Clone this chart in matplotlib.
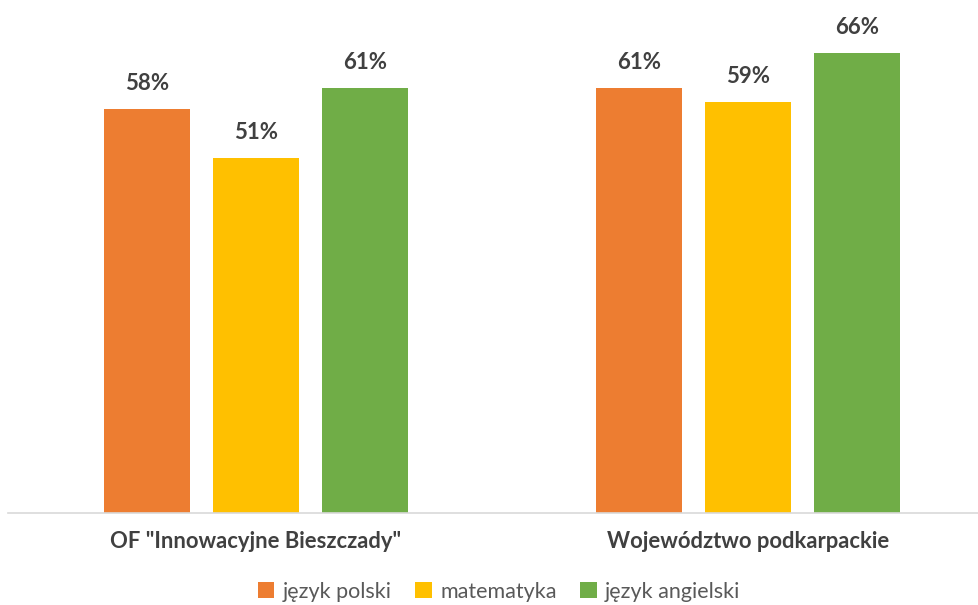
import numpy as np
import matplotlib
matplotlib.use("Agg")
import matplotlib.pyplot as plt

categories = ['OF "Innowacyjne Bieszczady"', 'Województwo podkarpackie']
series_names = ['język polski', 'matematyka', 'język angielski']
values = {
    'język polski': [0.58, 0.61],
    'matematyka': [0.51, 0.59],
    'język angielski': [0.61, 0.66],
}
colors = ['#ED7D31', '#FFC000', '#70AD47']

plt.rcParams['font.family'] = ['Lato', 'DejaVu Sans']

fig = plt.figure(figsize=(9.79, 6.05), dpi=100)
ax = fig.add_axes([8 / 979, 0.152, 971 / 979, 0.848])

x = np.arange(len(categories))
width = 0.173
offset = 0.2215

for i, (name, col) in enumerate(zip(series_names, colors)):
    pos = x + (i - 1) * offset
    bars = ax.bar(pos, values[name], width=width, color=col, label=name, zorder=2)
    for b, v in zip(bars, values[name]):
        ax.text(b.get_x() + b.get_width() / 2, v + 0.021, f'{v * 100:.0f}%',
                ha='center', va='bottom', fontsize=16, fontweight='bold', color='#404040')

ax.set_xlim(-0.504, 1.4695)
ax.set_ylim(0, 0.736)

for s in ['top', 'right', 'left']:
    ax.spines[s].set_visible(False)
ax.spines['bottom'].set_color('#D9D9D9')
ax.spines['bottom'].set_linewidth(1.2)
ax.set_yticks([])
ax.set_xticks(x)
ax.set_xticklabels(categories, fontsize=15.8, fontweight='bold', color='#404040')
ax.tick_params(axis='x', length=0, pad=13)

leg = fig.legend(loc='center', bbox_to_anchor=(0.51, 0.022), ncol=3, frameon=False,
                 fontsize=15.5, handlelength=0.75, handleheight=0.75, handletextpad=0.4,
                 columnspacing=1.1)
for t in leg.get_texts():
    t.set_color('#595959')

fig.savefig('out.png', dpi=100)
